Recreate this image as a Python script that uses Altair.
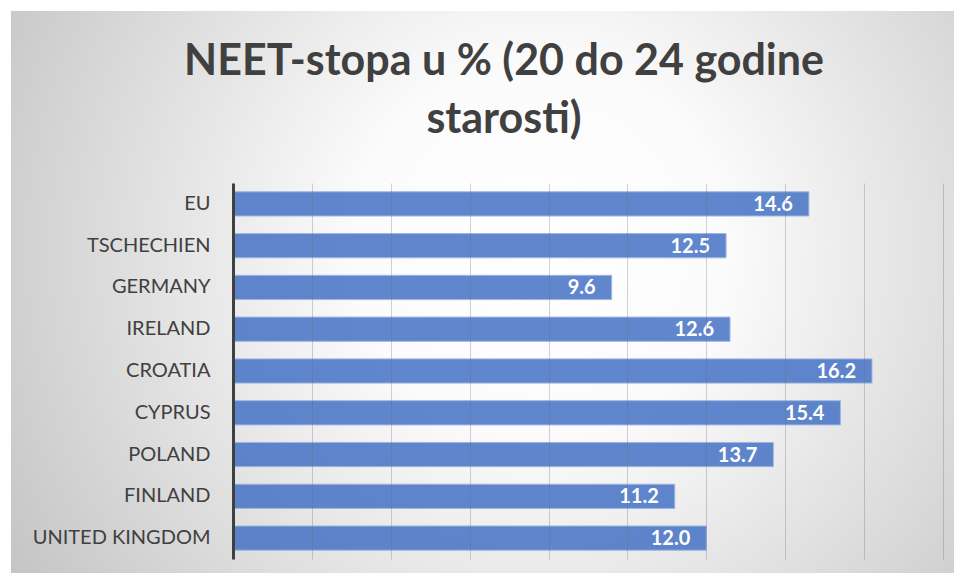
import altair as alt
import pandas as pd

countries = ["EU", "TSCHECHIEN", "GERMANY", "IRELAND", "CROATIA", "CYPRUS", "POLAND", "FINLAND", "UNITED KINGDOM"]
values = [14.6, 12.5, 9.6, 12.6, 16.2, 15.4, 13.7, 11.2, 12.0]
title_lines = ["NEET-stopa u % (20 do 24 godine", "starosti)"]

df = pd.DataFrame({"country": countries, "value": values})

FONT = "Lato"
TXT = "#404040"

y_enc = alt.Y(
    "country:N",
    sort=countries,
    title=None,
    scale=alt.Scale(paddingInner=0.42, paddingOuter=0.21),
    axis=alt.Axis(
        labelFont=FONT, labelFontSize=20, labelColor=TXT, labelPadding=23,
        ticks=False, domain=True, domainColor="#404040", domainWidth=3,
        grid=False, zindex=2,
    ),
)
x_enc = alt.X(
    "value:Q",
    title=None,
    scale=alt.Scale(domain=[0, 18], nice=False),
    axis=alt.Axis(
        values=list(range(0, 19, 2)), labels=False, ticks=False, domain=False,
        grid=True, gridColor="#6a6a6a", gridOpacity=0.3, gridWidth=1, zindex=1,
    ),
)

bg = alt.Chart(pd.DataFrame({"k": [0]})).mark_rect(
    fill={
        "gradient": "radial",
        "x1": 0.55, "y1": 0.45, "r1": 0.0,
        "x2": 0.55, "y2": 0.45, "r2": 0.78,
        "stops": [
            {"offset": 0.0, "color": "#ffffff"},
            {"offset": 0.25, "color": "#fbfbfb"},
            {"offset": 1.0, "color": "#b4b4b4"},
        ],
    },
).encode(
    x=alt.value(-222), x2=alt.value(740),
    y=alt.value(-172), y2=alt.value(400),
)

bars = alt.Chart(df).mark_bar(
    color="#4472C4", fillOpacity=0.85, stroke="#9fb6e2", strokeWidth=1,
).encode(x=x_enc, y=y_enc)

labels = alt.Chart(df).mark_text(
    align="right", baseline="middle", dx=-16, dy=1,
    font=FONT, fontSize=20, fontWeight="bold", color="white",
).encode(
    x=alt.X("value:Q"),
    y=alt.Y("country:N", sort=countries),
    text=alt.Text("value:Q", format=".1f"),
)

chart = alt.layer(bg, bars, labels).properties(
    width=710,
    height=376,
    title=alt.Title(
        title_lines, font=FONT, fontSize=43, fontWeight="bold", color=TXT,
        lineHeight=58, anchor="middle", dx=-84, offset=-165, baseline="alphabetic",
    ),
    autosize=alt.AutoSizeParams(type="none"),
    padding={"left": 225, "top": 175, "right": 11, "bottom": 14},
).configure_view(stroke=None).configure(background="white")

chart.save("out.html", embed_options={"renderer": "svg", "actions": False})
